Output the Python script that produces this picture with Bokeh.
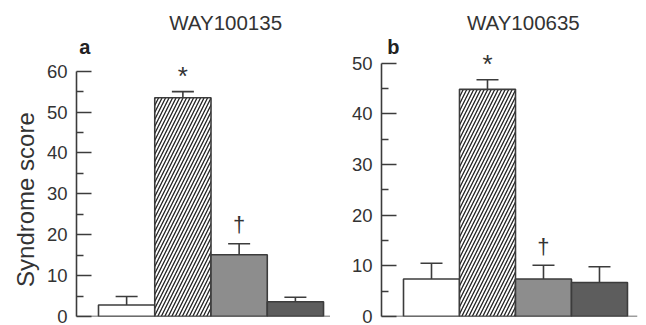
import math
from bokeh.plotting import figure
from bokeh.layouts import row
from bokeh.models import Range1d, FixedTicker, ColumnDataSource, Whisker, TeeHead, Span
from bokeh.core.properties import value
from bokeh.embed import file_html
from bokeh.resources import INLINE

# ---- data ----
groups = [1, 2, 3, 4]
fills = ["white", "white", "#8d8d8d", "#5d5d5d"]
hatches = [" ", "/", " ", " "]

a_title = "WAY100135"
a_mean = [2.8, 53.5, 15.1, 3.6]
a_upper = [4.9, 55.0, 17.8, 4.7]
a_ticks = [0, 10, 20, 30, 40, 50, 60]
a_minor = [5, 15, 25, 35, 45, 55]

b_title = "WAY100635"
b_mean = [7.4, 44.8, 7.4, 6.7]
b_upper = [10.5, 46.7, 10.1, 9.8]
b_ticks = [0, 10, 20, 30, 40, 50]
b_minor = [5, 15, 25, 35, 45]

y_label = "Syndrome score"

# markers: (group index, symbol)
a_marks = [(1, "*"), (2, "†")]
b_marks = [(1, "*"), (2, "†")]

FONT = "Liberation Sans"
INK = "#333333"
LINE = "#3c3c3c"
A_YTOP = 75.34


def panel(title, letter, means, uppers, ticks, minor, marks, width, xr, ytop,
          min_left, min_right, min_bottom, title_xy, letter_xy):
    p = figure(width=width, height=325, x_range=Range1d(*xr), y_range=Range1d(0, ytop),
               output_backend="svg", toolbar_location=None, x_axis_location=None,
               min_border_left=min_left, min_border_right=min_right,
               min_border_top=8, min_border_bottom=min_bottom)
    p.grid.visible = False
    p.outline_line_color = None
    p.background_fill_color = "white"
    p.border_fill_color = "white"

    src = ColumnDataSource(dict(x=groups, mean=means, upper=uppers,
                                fill=fills, hatch=hatches))
    p.add_layout(Whisker(source=src, base="x", upper="upper", lower="mean",
                         line_color=LINE, line_width=1.6, lower_head=None,
                         upper_head=TeeHead(size=22, line_color=LINE, line_width=1.6)))
    p.vbar(x="x", top="mean", bottom=0, width=1.0, source=src,
           fill_color="fill", line_color=LINE, line_width=1.6,
           hatch_pattern="hatch", hatch_color="#222222", hatch_scale=7, hatch_weight=1.3)

    p.add_layout(Span(location=0, dimension="width", line_color=LINE, line_width=1.6))

    ax = p.yaxis[0]
    ax.bounds = (ticks[0], ticks[-1])
    ax.ticker = FixedTicker(ticks=ticks, minor_ticks=minor)
    ax.axis_line_color = LINE
    ax.axis_line_width = 1.6
    ax.major_tick_line_color = LINE
    ax.major_tick_line_width = 1.6
    ax.minor_tick_line_color = LINE
    ax.minor_tick_line_width = 1.6
    ax.major_tick_in = 15
    ax.major_tick_out = 0
    ax.minor_tick_in = 7
    ax.minor_tick_out = 0
    ax.major_label_standoff = 9
    ax.major_label_text_font = FONT
    ax.major_label_text_font_size = "18.5px"
    ax.major_label_text_color = INK

    for gi, sym in marks:
        off = -16 if sym == "*" else -19
        size = "26px" if sym == "*" else "22px"
        p.text(x=[groups[gi]], y=[uppers[gi]], text=[sym], text_align="center",
               text_baseline="middle", y_offset=off, text_font=value(FONT),
               text_font_size=size, text_color=INK)

    p.text(x=[title_xy[0]], y=[title_xy[1]], text=[title], text_align="center",
           text_baseline="middle", text_font=value(FONT), text_font_size="20.5px",
           text_color=INK)
    p.text(x=[letter_xy[0]], y=[letter_xy[1]], text=[letter], text_align="left",
           text_baseline="middle", text_font=value(FONT), text_font_size="20px",
           text_font_style="bold", text_color="#222222")
    return p


# y-axis title strip (shares panel a's vertical scale)
pl = figure(width=40, height=325, x_range=Range1d(0, 1), y_range=Range1d(0, A_YTOP),
            output_backend="svg", toolbar_location=None,
            x_axis_location=None, y_axis_location=None,
            min_border_left=0, min_border_right=0, min_border_top=8, min_border_bottom=9)
pl.grid.visible = False
pl.outline_line_color = None
pl.text(x=[0.625], y=[28.6], text=[y_label], angle=math.pi / 2, text_align="center",
        text_baseline="middle", text_font=value(FONT), text_font_size="24px",
        text_color=INK)

pa = panel(a_title, "a", a_mean, a_upper, a_ticks, a_minor, a_marks,
           width=290, xr=(0.109, 4.624), ytop=A_YTOP,
           min_left=36, min_right=0, min_bottom=9,
           title_xy=(2.76, 71.9), letter_xy=(0.16, 66.0))
pb = panel(b_title, "b", b_mean, b_upper, b_ticks, b_minor, b_marks,
           width=316, xr=(0.107, 4.679), ytop=60.75,
           min_left=51, min_right=9, min_bottom=8,
           title_xy=(2.64, 58.0), letter_xy=(0.21, 53.1))

layout = row(pl, pa, pb)
open("out.html", "w").write(file_html(layout, INLINE))
